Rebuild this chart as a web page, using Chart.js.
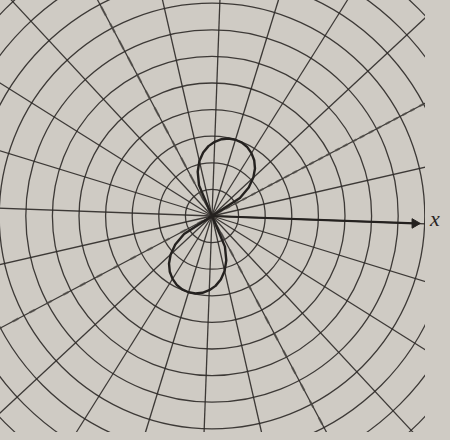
<!DOCTYPE html>
<html><head><meta charset="utf-8">
<script src="https://cdn.jsdelivr.net/npm/chart.js@4.4.1/dist/chart.umd.min.js"></script>
<style>
html,body{margin:0;padding:0;width:450px;height:440px;overflow:hidden;background:#cfcbc4;}
#paper{position:absolute;left:0;top:0;width:425px;height:432px;overflow:hidden;}
#wrap{position:absolute;left:-138px;top:-134px;width:700px;height:700px;}
#xlabel{position:absolute;left:430px;top:208px;font:italic 22px "Liberation Serif","DejaVu Serif",serif;line-height:22px;color:#2a2725;}
</style></head><body>
<div id="paper"><div id="wrap"><canvas id="c" width="700" height="700"></canvas></div></div>
<div id="xlabel">x</div>
<script>
// polar angles of the sample directions (degrees, counter-clockwise from x axis)
const angleDeg = [0,5,10,15,20,25,30,35,40,45,50,55,60,65,70,75,80,85,90,95,100,105,110,115,
  120,125,130,135,140,145,150,155,160,165,170,175,180,185,190,195,200,205,210,215,220,225,230,235,
  240,245,250,255,260,265,270,275,280,285,290,295,300,305,310,315,320,325,330,335,340,345,350,355];
// radius of the figure-eight curve (in ring units) at each angle above
const curveR = [0,0,0,0,0,0,0,1.25,1.75,2.12,2.41,2.63,2.79,2.91,2.98,3.0,2.98,2.91,2.79,2.63,2.41,2.12,1.75,1.25,
  0,0,0,0,0,0,0,0,0,0,0,0,0,0,0,0,0,0,0,1.25,1.75,2.12,2.41,2.63,
  2.79,2.91,2.98,3.0,2.98,2.91,2.79,2.63,2.41,2.12,1.75,1.25,0,0,0,0,0,0,0,0,0,0,0,0];
// dashed guide directions (tangents at the pole)
const guideAngles = [30,120,210,300];
const guideLength = [13,13,13,13];
// x axis arrow length (ring units)
const axisAngle = [0];
const axisLength = [7.63];
// ring spacing / spoke spacing
const ringStep = 1;
const spokeStep = 15;

const ink = '#24211f';
const gridInk = 'rgba(44,41,39,0.9)';

// labels ordered clockwise as Chart.js radar draws them
const order = angleDeg.map((_, i) => angleDeg[(angleDeg.length - i) % angleDeg.length]);
const idx = a => angleDeg.indexOf(a);
const curveData = order.map(a => curveR[idx(a)]);
const guideData = order.map(a => { const k = guideAngles.indexOf(a); return k >= 0 ? guideLength[k] : 0; });
const axisData = order.map(a => { const k = axisAngle.indexOf(a); return k >= 0 ? axisLength[k] : 0; });

new Chart(document.getElementById('c'), {
  type: 'radar',
  data: {
    labels: order.map(String),
    datasets: [
      { label: 'curve', data: curveData, borderColor: ink, borderWidth: 2.4, fill: false,
        backgroundColor: 'transparent', pointRadius: 0, tension: 0, borderJoinStyle: 'round' },
      { label: 'x axis', data: axisData, borderColor: ink, borderWidth: 2.2, fill: false,
        backgroundColor: 'transparent', borderJoinStyle: 'round',
        pointRadius: c => (order[c.dataIndex] === axisAngle[0] ? 5.5 : 0),
        pointStyle: 'triangle', pointRotation: 90, pointBackgroundColor: ink, pointBorderColor: ink, pointBorderWidth: 1 },
      { label: 'guides', data: guideData, borderColor: 'rgba(80,77,73,0.7)', borderWidth: 2.2, fill: false,
        backgroundColor: 'transparent', pointRadius: 0, borderDash: [5, 14] }
    ]
  },
  options: {
    responsive: false,
    animation: false,
    events: [],
    devicePixelRatio: 1,
    layout: { padding: 0 },
    plugins: { legend: { display: false }, tooltip: { enabled: false } },
    scales: {
      r: {
        min: 0,
        max: 13.158,
        startAngle: 92.1,
        ticks: { display: false, stepSize: ringStep, showLabelBackdrop: false },
        pointLabels: { display: false },
        grid: { circular: true, color: gridInk, lineWidth: 1.3 },
        angleLines: {
          color: gridInk,
          lineWidth: c => (order[c.index] % spokeStep === 0 ? 1.3 : 0)
        }
      }
    }
  }
});
</script>
</body></html>
